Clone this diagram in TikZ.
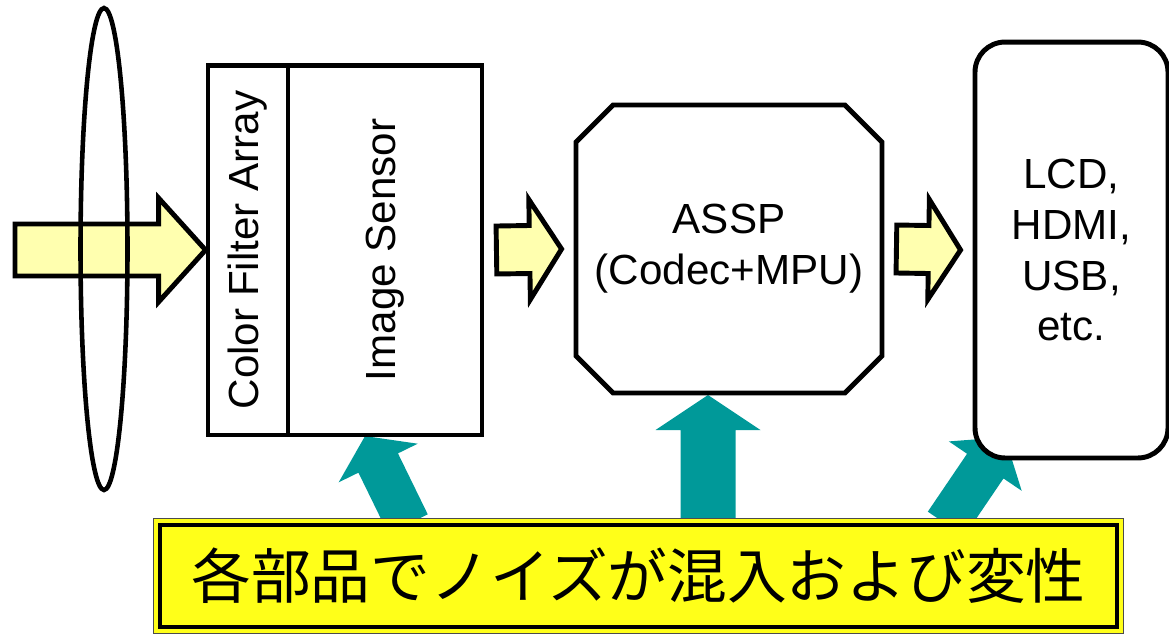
\documentclass[tikz,border=0pt]{standalone}
\usepackage{fontspec}
\usepackage{tikz}
\usetikzlibrary{shapes, shapes.geometric, shapes.misc, calc}
\setmainfont{Liberation Sans}
\newfontfamily\jpfont{Noto Sans CJK JP}
\definecolor{flowyellow}{RGB}{255,255,175}
\definecolor{noiseteal}{RGB}{0,153,153}
\definecolor{noiseyellow}{RGB}{255,255,25}
\pgfdeclarelayer{background}
\pgfsetlayers{background,main}

\newcommand{\blockarrow}[6][]{%
  \path[#1] let \p1=(#2), \p2=(#3), \n1={atan2(\y2-\y1,\x2-\x1)}, \n2={veclen(\x2-\x1,\y2-\y1)} in
    [shift={(\p1)}, rotate=\n1]
    (0pt,-#4) -- ({\n2*1pt-#6},-#4) -- ({\n2*1pt-#6},-#5) -- ({\n2*1pt},0pt)
    -- ({\n2*1pt-#6},#5) -- ({\n2*1pt-#6},#4) -- (0pt,#4) -- cycle;}

\begin{document}
\begin{tikzpicture}[x=0.02cm, y=-0.02cm,
    part/.style={draw, fill=white, line width=2.8pt, font=\fontsize{24}{29}\selectfont, align=center, inner sep=0pt},
    flow/.style={draw, fill=flowyellow, line width=2.8pt, line join=miter},
    noise/.style={fill=noiseteal},
    noisebox/.style={fill=noiseyellow, draw, line width=2.2pt, inner sep=0pt,
        preaction={draw=black!70, line width=8pt}, preaction={draw=noiseyellow, line width=6.6pt}}]
    \useasboundingbox (0,0) rectangle (1169,633);
    \node[part, rectangle, minimum width=1.6cm, minimum height=7.4cm] (cfa) at (248,250) {\rotatebox{90}{Color Filter Array}};
    \node[part, rectangle, minimum width=3.88cm, minimum height=7.4cm] (sensor) at (385,250) {\rotatebox{90}{Image Sensor}};
    \node[part, chamfered rectangle, chamfered rectangle xsep=0.37cm, chamfered rectangle ysep=0.37cm,
        minimum width=6.12cm, minimum height=5.76cm] (assp) at (729,249) {ASSP\\(Codec+MPU)};
    \node[part, rectangle, rounded corners=0.6cm, minimum width=3.86cm, minimum height=8.32cm] (output) at (1071.5,250) {LCD,\\HDMI,\\USB,\\etc.};
    \node[draw, ellipse, line width=2.6pt, minimum width=0.94cm, minimum height=9.64cm, inner sep=0pt] (lens) at (104,249) {};
    \node[noisebox, minimum width=19.14cm, minimum height=2.04cm] (noisetext) at (638.5,576) {\jpfont\fontsize{34}{40}\selectfont 各部品でノイズが混入および変性};
    \coordinate (lightin) at (15,250);
    \coordinate (noiseA) at (408,524);
    \coordinate (noiseB) at (708,524);
    \coordinate (noiseC) at (946,524);
    \coordinate (hitA) at (365,436);
    \coordinate (hitB) at (708,395);
    \coordinate (hitC) at (1005,437);
    \begin{pgfonlayer}{background}
        \blockarrow[flow]{lightin}{cfa.west}{0.52cm}{1.04cm}{0.94cm}
        \blockarrow[flow]{$(sensor.east)+(12,0)$}{$(assp.west)+(-12,0)$}{0.48cm}{1.0cm}{0.64cm}
        \blockarrow[flow]{$(assp.east)+(12,0)$}{$(output.west)+(-12,0)$}{0.48cm}{1.0cm}{0.64cm}
        \blockarrow[noise]{noiseA}{hitA}{0.44cm}{0.88cm}{0.6cm}
        \blockarrow[noise]{noiseB}{hitB}{0.55cm}{1.05cm}{0.7cm}
        \blockarrow[noise]{noiseC}{hitC}{0.44cm}{0.88cm}{0.7cm}
    \end{pgfonlayer}
\end{tikzpicture}
\end{document}
